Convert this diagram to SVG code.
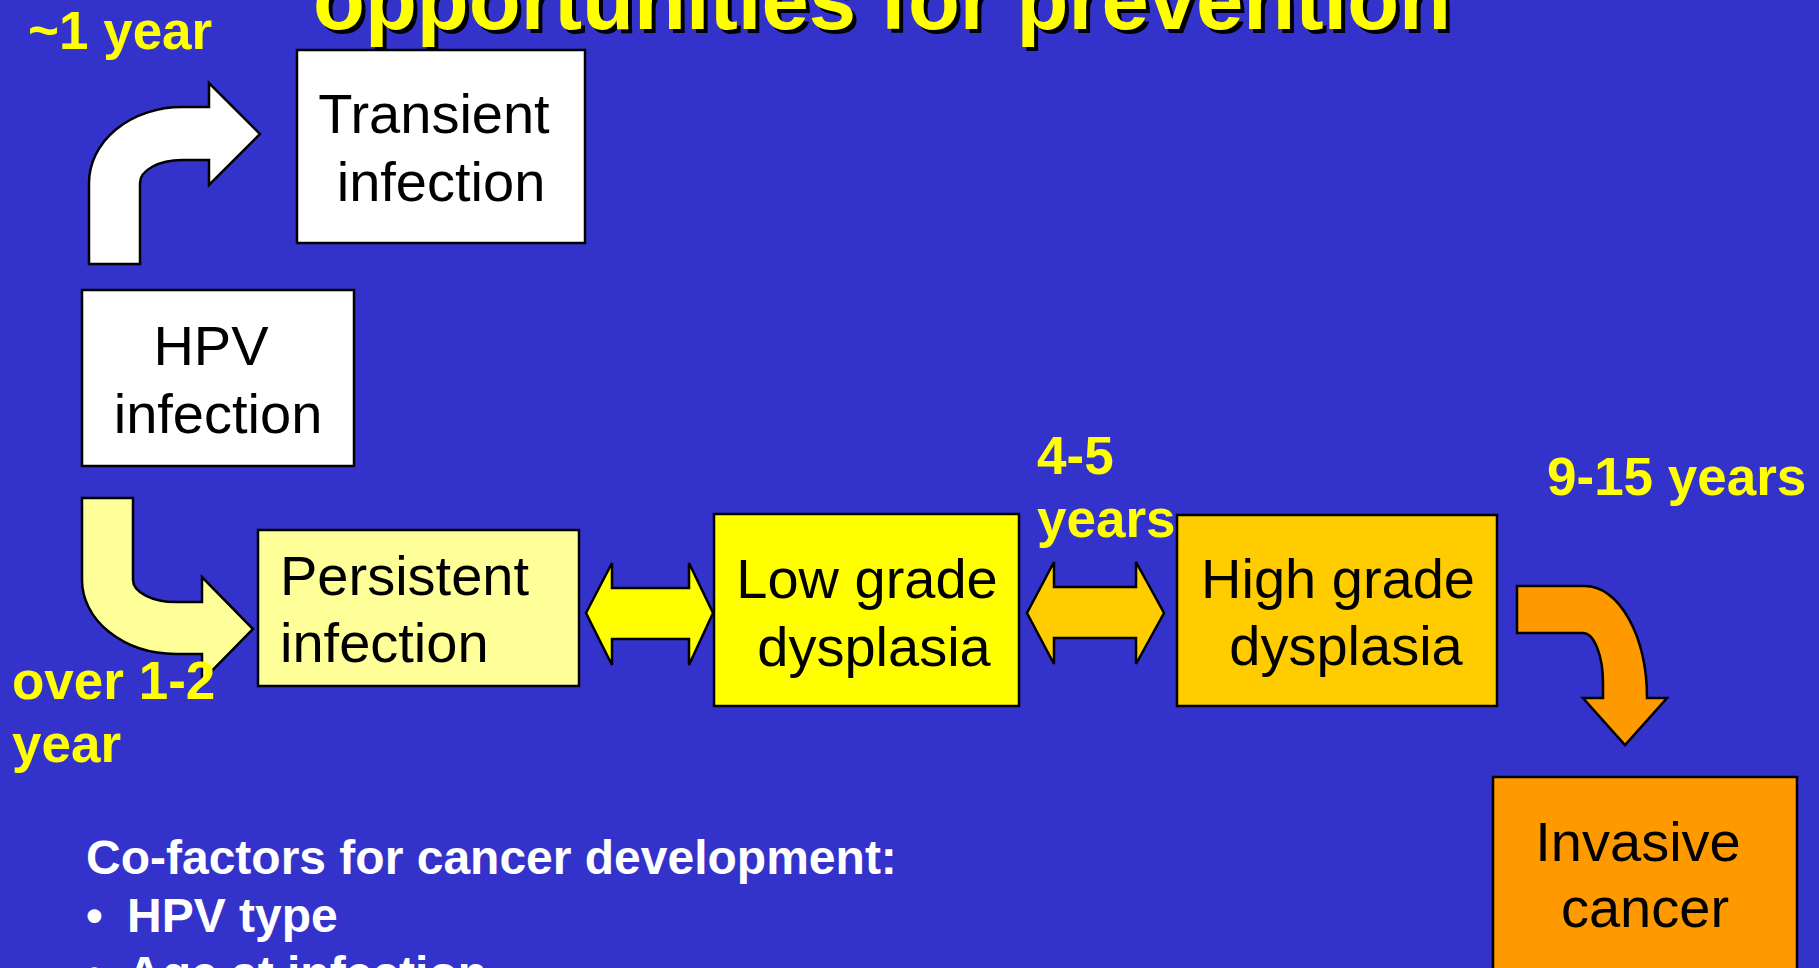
<svg xmlns="http://www.w3.org/2000/svg" width="1819" height="968" viewBox="0 0 1819 968">
  <style>
    .bg { fill: #3333CC; }
    .box { stroke: #000000; stroke-width: 2.5; }
    .node-text { font-family: "Liberation Sans", Arial, sans-serif; font-size: 56px; fill: #000000; }
    .label { font-family: "Liberation Sans", Arial, sans-serif; font-size: 53px; font-weight: bold; fill: #FFFF00; }
    .title { font-family: "Liberation Sans", Arial, sans-serif; font-size: 85px; font-weight: bold; }
    .notes { font-family: "Liberation Sans", Arial, sans-serif; font-size: 48px; font-weight: bold; fill: #FFFFFF; }
    .conn { stroke: #000000; stroke-width: 2.5; stroke-linejoin: miter; }
  </style>

  <rect class="bg" x="0" y="0" width="1819" height="968"/>

  <!-- Title (top part clipped by the page edge) -->
  <g id="title">
    <text class="title" x="317" y="33" fill="#000000">opportunities for prevention</text>
    <text class="title" x="313" y="29" fill="#FFFF00">opportunities for prevention</text>
  </g>

  <!-- Connectors -->
  <g id="connectors">
    <!-- HPV infection to Transient infection (bent arrow, white) -->
    <path class="conn" fill="#FFFFFF" d="M89,264 L89,183 A93,76 0 0 1 182,107 L209,107 L209,83 L260,134 L209,185 L209,160 L182,160 A42,23 0 0 0 140,183 L140,264 Z"/>
    <!-- HPV infection to Persistent infection (bent arrow, pale yellow) -->
    <path class="conn" fill="#FFFF99" d="M82,498 L82,580 A94,74 0 0 0 176,654 L202,654 L202,681 L253,629 L202,577 L202,602 L176,602 A43,22 0 0 1 133,580 L133,498 Z"/>
    <!-- Persistent infection <-> Low grade dysplasia -->
    <path class="conn" fill="#FFFF00" d="M586,613 L612,563 L612,588 L689,588 L689,563 L713,613 L689,665 L689,639 L612,639 L612,665 Z"/>
    <!-- Low grade dysplasia <-> High grade dysplasia -->
    <path class="conn" fill="#FFCC00" d="M1027,613 L1054,562 L1054,587 L1136,587 L1136,562 L1164,613 L1136,664 L1136,638 L1054,638 L1054,664 Z"/>
    <!-- High grade dysplasia to Invasive cancer (bent arrow, orange) -->
    <path class="conn" fill="#FF9900" d="M1517,586 L1585,586 A62,112 0 0 1 1647,698 L1667,698 L1625,745 L1583,698 L1603,698 L1603,683 A20,50 0 0 0 1583,633 L1517,633 Z"/>
  </g>

  <!-- Nodes -->
  <g id="node-transient">
    <rect class="box" x="297" y="50" width="288" height="193" fill="#FFFFFF"/>
    <text class="node-text" text-anchor="middle" x="434" y="133">Transient</text>
    <text class="node-text" text-anchor="middle" x="441" y="201">infection</text>
  </g>

  <g id="node-hpv">
    <rect class="box" x="82" y="290" width="272" height="176" fill="#FFFFFF"/>
    <text class="node-text" text-anchor="middle" x="211" y="365">HPV</text>
    <text class="node-text" text-anchor="middle" x="218" y="433">infection</text>
  </g>

  <g id="node-persistent">
    <rect class="box" x="258" y="530" width="321" height="156" fill="#FFFF99"/>
    <text class="node-text" x="280" y="595">Persistent</text>
    <text class="node-text" x="280" y="662">infection</text>
  </g>

  <g id="node-low-grade">
    <rect class="box" x="714" y="514" width="305" height="192" fill="#FFFF00"/>
    <text class="node-text" text-anchor="middle" x="867" y="598">Low grade</text>
    <text class="node-text" text-anchor="middle" x="874" y="666">dysplasia</text>
  </g>

  <g id="node-high-grade">
    <rect class="box" x="1177" y="515" width="320" height="191" fill="#FFCC00"/>
    <text class="node-text" text-anchor="middle" x="1338" y="598">High grade</text>
    <text class="node-text" text-anchor="middle" x="1346" y="665">dysplasia</text>
  </g>

  <g id="node-invasive">
    <rect class="box" x="1493" y="777" width="304" height="230" fill="#FF9900"/>
    <text class="node-text" text-anchor="middle" x="1638" y="861">Invasive</text>
    <text class="node-text" text-anchor="middle" x="1645" y="927">cancer</text>
  </g>

  <!-- Time labels -->
  <g id="labels">
    <text class="label" x="28" y="49">~1 year</text>
    <text class="label" x="12" y="699">over 1-2</text>
    <text class="label" x="12" y="762">year</text>
    <text class="label" x="1037" y="474">4-5</text>
    <text class="label" x="1037" y="537">years</text>
    <text class="label" x="1547" y="495">9-15 years</text>
  </g>

  <!-- Co-factor list -->
  <g id="cofactors">
    <text class="notes" x="86" y="874">Co-factors for cancer development:</text>
    <text class="notes" x="86" y="932">•</text>
    <text class="notes" x="127" y="932">HPV type</text>
    <text class="notes" x="86" y="990">•</text>
    <text class="notes" x="127" y="990">Age at infection</text>
  </g>
</svg>
